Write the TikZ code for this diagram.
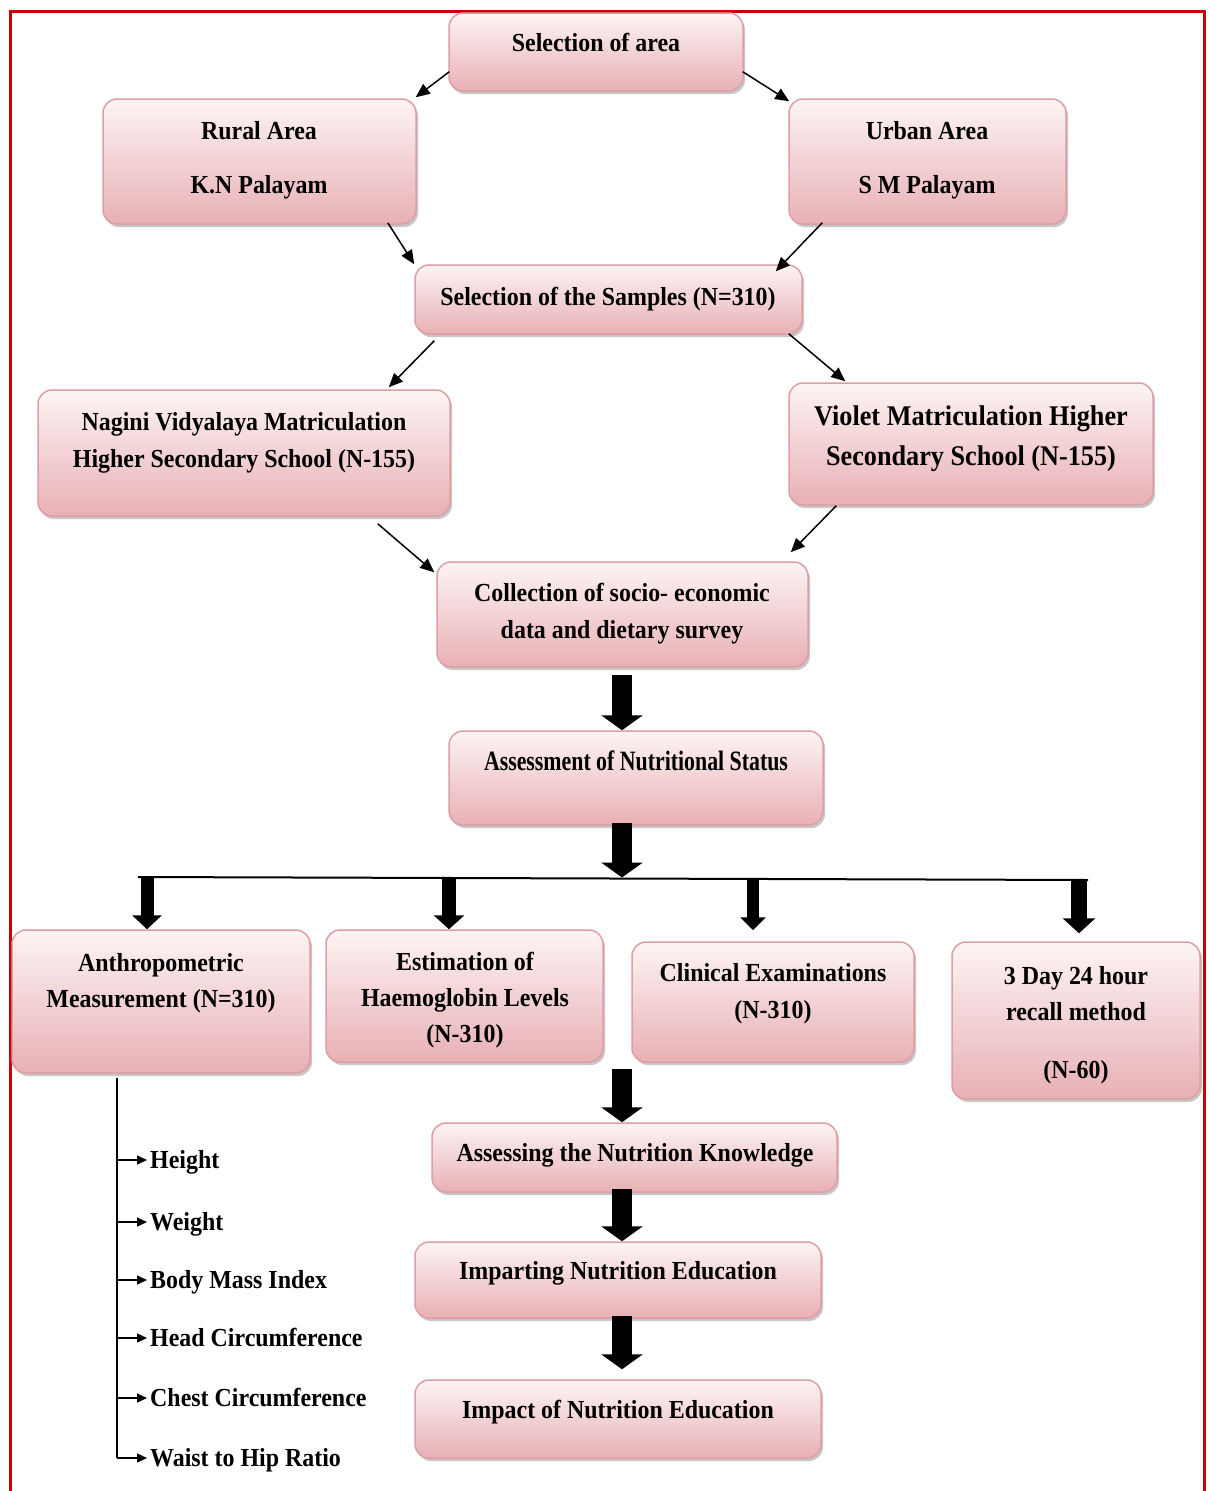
\documentclass[tikz,border=0pt]{standalone}
\usepackage{fontspec}
\setmainfont{Liberation Serif}[FakeStretch=0.92]
\newfontfamily\ansfam{Liberation Serif}[FakeStretch=0.78]
\usetikzlibrary{arrows.meta,shadows,calc}
\definecolor{boxtop}{HTML}{FDF4F4}
\definecolor{boxbot}{HTML}{E8B0B5}
\definecolor{boxline}{HTML}{DE9EA5}
\definecolor{framered}{HTML}{CC0000}
\newcommand\mainf{\fontsize{26}{30}\selectfont\bfseries}
\newcommand\bigf{\fontsize{28.5}{30}\selectfont\bfseries}
\newcommand\ansf{\ansfam\fontsize{28}{30}\selectfont\bfseries}
\begin{document}
\begin{tikzpicture}[x=1pt,y=-1pt,
  box/.style={rectangle, rounded corners=14pt, draw=boxline, line width=1.5pt,
    top color=boxtop, bottom color=boxbot, inner sep=0pt,
    drop shadow={shadow xshift=2pt, shadow yshift=-3pt, fill=black, opacity=0.22}},
  lbl/.style={inner sep=0pt, text height=17pt, text depth=0pt, font=\mainf},
  thinarrow/.style={line width=1.5pt, -{Triangle[length=14pt,width=12pt]}},
  bigarrow/.style={line width=20pt, -{Triangle[length=15pt,width=41pt]}},
  midarrow/.style={line width=14pt, -{Triangle[length=14pt,width=30pt]}},
  smallarrow/.style={line width=1.3pt, -{Triangle[length=10pt,width=9pt]}},
]
\useasboundingbox (0,0) rectangle (1208,1491);
\fill[white] (0,0) rectangle (1208,1491);
\draw[framered, line width=3pt] (10,1491) -- (10,11) -- (1204,11) -- (1204,1491);

% boxes
\node[box, minimum width=294pt, minimum height=78pt] (sel) at (596,52) {};
\node[box, minimum width=313pt, minimum height=125pt] (rural) at (259.5,161.5) {};
\node[box, minimum width=277pt, minimum height=125pt] (urban) at (927.5,161.5) {};
\node[box, minimum width=387pt, minimum height=69pt] (samp) at (608.5,299.5) {};
\node[box, minimum width=412pt, minimum height=126pt] (nag) at (244,453) {};
\node[box, minimum width=364pt, minimum height=122pt] (vio) at (971,444) {};
\node[box, minimum width=371pt, minimum height=105pt] (coll) at (622.5,614.5) {};
\node[box, minimum width=374pt, minimum height=94pt] (ans) at (636,778) {};
\node[box, minimum width=298pt, minimum height=143pt] (anth) at (161,1001.5) {};
\node[box, minimum width=277pt, minimum height=132pt] (est) at (464.5,996) {};
\node[box, minimum width=282pt, minimum height=120pt] (clin) at (773,1002) {};
\node[box, minimum width=248pt, minimum height=157pt] (day) at (1076,1020.5) {};
\node[box, minimum width=405pt, minimum height=69pt] (know) at (634.5,1157.5) {};
\node[box, minimum width=406pt, minimum height=76pt] (imp) at (618,1280) {};
\node[box, minimum width=406pt, minimum height=78pt] (impact) at (618,1419) {};

% texts
\node[lbl] (sel-t) at (596,43) {Selection of area};
\node[lbl] (rural-t1) at (259,131) {Rural Area};
\node[lbl] (rural-t2) at (259,185) {K.N Palayam};
\node[lbl] (urban-t1) at (927,131) {Urban Area};
\node[lbl] (urban-t2) at (927,185) {S M Palayam};
\node[lbl] (samp-t) at (608,297) {Selection of the Samples (N=310)};
\node[lbl] (nag-t1) at (244,422) {Nagini Vidyalaya Matriculation};
\node[lbl] (nag-t2) at (244,459) {Higher Secondary School (N-155)};
\node[lbl, font=\bigf, text height=18.5pt] (vio-t1) at (971,416) {Violet Matriculation Higher};
\node[lbl, font=\bigf, text height=18.5pt] (vio-t2) at (971,456) {Secondary School (N-155)};
\node[lbl] (coll-t1) at (622,593) {Collection of socio- economic};
\node[lbl] (coll-t2) at (622,630) {data and dietary survey};
\node[lbl, font=\ansf, text height=19pt] (ans-t) at (636,761) {Assessment of Nutritional Status};
\node[lbl] (anth-t1) at (161,963) {Anthropometric};
\node[lbl] (anth-t2) at (161,999) {Measurement (N=310)};
\node[lbl] (est-t1) at (465,962) {Estimation of};
\node[lbl] (est-t2) at (465,998) {Haemoglobin Levels};
\node[lbl] (est-t3) at (465,1034) {(N-310)};
\node[lbl] (clin-t1) at (773,973) {Clinical Examinations};
\node[lbl] (clin-t2) at (773,1010) {(N-310)};
\node[lbl] (day-t1) at (1076,976) {3 Day 24 hour};
\node[lbl] (day-t2) at (1076,1012) {recall method};
\node[lbl] (day-t3) at (1076,1070) {(N-60)};
\node[lbl] (know-t) at (635,1153) {Assessing the Nutrition Knowledge};
\node[lbl] (imp-t) at (618,1271) {Imparting Nutrition Education};
\node[lbl] (impact-t) at (618,1410) {Impact of Nutrition Education};

% list items
\node[lbl, anchor=west] (m1) at (150,1160) {Height};
\node[lbl, anchor=west] (m2) at (150,1222) {Weight};
\node[lbl, anchor=west] (m3) at (150,1280) {Body Mass Index};
\node[lbl, anchor=west] (m4) at (150,1338) {Head Circumference};
\node[lbl, anchor=west] (m5) at (150,1398) {Chest Circumference};
\node[lbl, anchor=west] (m6) at (150,1458) {Waist to Hip Ratio};

% thin arrows
\draw[thinarrow] ($(sel.south west)+(1,-20)$) -- ($(rural.north east)+(-1,-1)$);
\draw[thinarrow] ($(sel.south east)+(-1,-20)$) -- ($(urban.north west)+(1,3)$);
\draw[thinarrow] ($(rural.south east)+(-29,-2)$) -- ($(samp.north west)+(0,0)$);
\draw[thinarrow] ($(urban.south west)+(34,-2)$) -- ($(samp.north east)+(-27,7)$);
\draw[thinarrow] ($(samp.south west)+(20,6)$) -- ($(nag.north east)+(-62,-2)$);
\draw[thinarrow] ($(samp.south east)+(-14,-1)$) -- ($(vio.north west)+(57,-1)$);
\draw[thinarrow] ($(nag.south east)+(-73,7)$) -- ($(coll.north west)+(-2,11)$);
\draw[thinarrow] ($(vio.south west)+(48,0)$) -- ($(coll.north east)+(-18,-9)$);

% central axis and bus
\coordinate (cx) at (622,0);
\coordinate (busL) at (138,877);
\coordinate (busR) at (1088,880);
\coordinate (bm) at (622,877.5);
\coordinate (b1) at (147,877);
\coordinate (b2) at (449,877);
\coordinate (b3) at (753,878.5);
\coordinate (b4) at (1079,880);
\coordinate (a3s) at (622,1069);

\draw[bigarrow] ($(coll.south -| cx)+(0,7)$) -- (ans.north -| cx);
\draw[bigarrow] ($(ans.south -| cx)+(0,-3)$) -- (bm);
\draw[line width=2pt] (busL) -- (busR);
\draw[midarrow, line width=13pt, -{Triangle[length=14pt,width=29pt]}] (b1) -- (b1 |- anth.north);
\draw[midarrow] (b2) -- (b2 |- est.north);
\draw[midarrow, line width=12pt, -{Triangle[length=13pt,width=25pt]}] (b3) -- ($(b3 |- clin.north)+(0,-11)$);
\draw[midarrow, line width=16pt, -{Triangle[length=15pt,width=32pt]}] (b4) -- ($(b4 |- day.north)+(0,-8)$);
\draw[bigarrow] (a3s) -- (know.north -| cx);
\draw[bigarrow] ($(know.south -| cx)+(0,-4)$) -- (imp.north -| cx);
\draw[bigarrow] ($(imp.south -| cx)+(0,-3)$) -- ($(impact.north -| cx)+(0,-10)$);

% anthropometric list
\coordinate (vtop) at (117,1078);
\draw[line width=1.3pt] (vtop) -- (vtop |- m6.west);
\draw[smallarrow] (vtop |- m1.west) -- ($(m1.west)+(-3,0)$);
\draw[smallarrow] (vtop |- m2.west) -- ($(m2.west)+(-3,0)$);
\draw[smallarrow] (vtop |- m3.west) -- ($(m3.west)+(-3,0)$);
\draw[smallarrow] (vtop |- m4.west) -- ($(m4.west)+(-3,0)$);
\draw[smallarrow] (vtop |- m5.west) -- ($(m5.west)+(-3,0)$);
\draw[smallarrow] (vtop |- m6.west) -- ($(m6.west)+(-3,0)$);
\end{tikzpicture}
\end{document}
